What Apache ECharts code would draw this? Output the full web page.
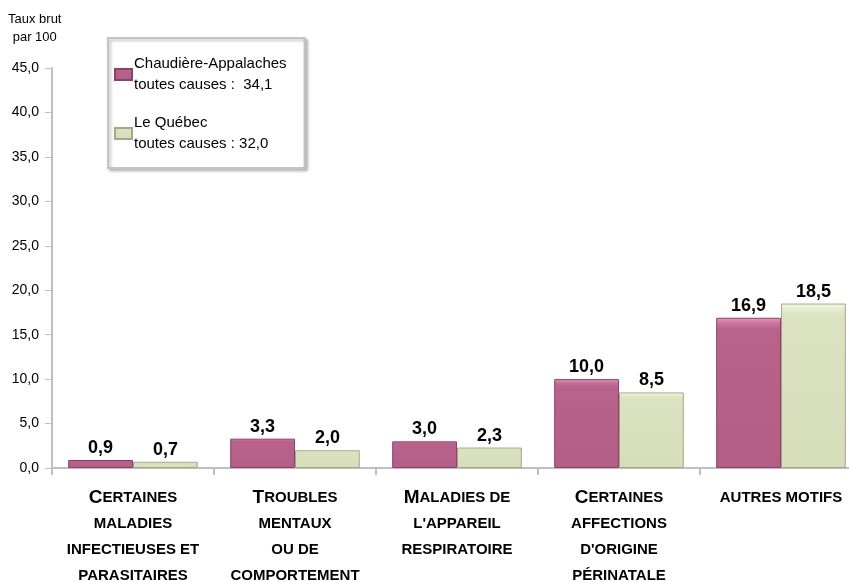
<!DOCTYPE html>
<html>
<head>
<meta charset="utf-8">
<script src="https://cdn.jsdelivr.net/npm/echarts@6/dist/echarts.min.js"></script>
<style>
html,body{margin:0;padding:0;background:#fff;}
#chart{width:849px;height:582px;}
</style>
</head>
<body>
<div id="chart"></div>
<script>
const categories = [
    "Certaines\nmaladies\ninfectieuses et\nparasitaires",
    "Troubles\nmentaux\nou de\ncomportement",
    "Maladies de\nl'appareil\nrespiratoire",
    "Certaines\naffections\nd'origine\npérinatale",
    "autres motifs"
];
const chaudiere = [0.9, 3.3, 3.0, 10.0, 16.9];
const quebec = [0.7, 2.0, 2.3, 8.5, 18.5];
const seriesNames = ["Chaudière-Appalaches", "Le Québec"];
const totals = ["34,1", "32,0"];
const totalsPrefix = ["toutes causes :  ", "toutes causes : "];

window.addEventListener("load", function () {
    let chart = echarts.init(document.getElementById("chart"));
    const font = "'Liberation Sans', Arial, sans-serif";
    const fr = v => v.toFixed(1).replace(".", ",");

    // fake small caps: first capital letter is drawn larger
    function smallCaps(txt) {
        let lines = txt.split("\n");
        return lines.map((l, i) => {
            let up = l.toUpperCase();
            if (i == 0 && l[0] != l[0].toLowerCase() ) {
                return "{big|" + up[0] + "}{sm|" + up.slice(1) + "}";
            }
            return "{sm|" + up + "}";
        }).join("\n");
    }

    let pink = new echarts.graphic.LinearGradient(0, 0, 0, 1, [
        {offset: 0, color: '#e897c0'},
        {offset: 0.04, color: '#c8719c'},
        {offset: 0.08, color: '#b8628c'},
        {offset: 1, color: '#b35d87'}
    ]);
    let green = new echarts.graphic.LinearGradient(0, 0, 0, 1, [
        {offset: 0, color: '#f4f8e2'},
        {offset: 0.04, color: '#e4eacb'},
        {offset: 0.08, color: '#dbe2c0'},
        {offset: 1, color: '#d6ddb9'}
    ]);

    let labelStyle = {
        show: true,
        position: 'top',
        distance: 3,
        fontFamily: font,
        fontWeight: 'bold',
        fontSize: 18,
        color: '#000',
        formatter: p => fr(p.value)
    };

    let option = {
        backgroundColor: '#fff',
        animation: false,
        graphic: [{
            type: 'text',
            left: 8,
            top: 10,
            style: {
                text: 'Taux brut\npar 100',
                font: '13px ' + font,
                fill: '#000',
                textAlign: 'center',
                lineHeight: 18
            }
        }],
        legend: {
            left: 108,
            top: 38,
            orient: 'vertical',
            backgroundColor: '#fff',
            borderColor: '#c4c4c4',
            borderWidth: 2,
            shadowColor: 'rgba(0,0,0,0.25)',
            shadowBlur: 3,
            shadowOffsetX: 2,
            shadowOffsetY: 2,
            padding: [5, 18, 3, 6],
            itemWidth: 17,
            itemHeight: 11,
            itemGap: -4,
            icon: 'rect',
            data: seriesNames,
            formatter: function (name) {
                let i = seriesNames.indexOf(name);
                return name + "\n" + totalsPrefix[i] + totals[i];
            },
            textStyle: {
                fontFamily: font,
                fontSize: 15,
                color: '#000',
                lineHeight: 21,
                padding: [21, 0, 0, -3]
            }
        },
        grid: {
            left: 52,
            top: 68,
            width: 810,
            height: 400,
            outerBoundsMode: 'none'
        },
        xAxis: {
            type: 'category',
            data: categories,
            axisLine: {lineStyle: {color: '#bfbfbf', width: 2}},
            axisTick: {show: true, length: 7, lineStyle: {color: '#bfbfbf', width: 2}},
            axisLabel: {
                interval: 0,
                margin: 17,
                formatter: smallCaps,
                rich: {
                    big: {fontFamily: font, fontWeight: 'bold', fontSize: 19, color: '#000', lineHeight: 26},
                    sm: {fontFamily: font, fontWeight: 'bold', fontSize: 15, color: '#000', lineHeight: 26}
                }
            }
        },
        yAxis: {
            type: 'value',
            min: 0,
            max: 45,
            interval: 5,
            splitLine: {show: false},
            axisLine: {show: true, lineStyle: {color: '#bfbfbf', width: 2}},
            axisTick: {show: true, length: 7, lineStyle: {color: '#bfbfbf', width: 1}},
            axisLabel: {
                margin: 13,
                fontFamily: font,
                fontSize: 14,
                color: '#000',
                formatter: v => fr(v)
            }
        },
        series: [{
            name: seriesNames[0],
            type: 'bar',
            data: chaudiere,
            barGap: '0%',
            barCategoryGap: '20%',
            itemStyle: {color: pink, borderColor: '#8d4169', borderWidth: 1},
            label: labelStyle
        }, {
            name: seriesNames[1],
            type: 'bar',
            data: quebec,
            itemStyle: {color: green, borderColor: '#a3a888', borderWidth: 1},
            label: labelStyle
        }]
    };

    chart.setOption(option);
});
</script>
</body>
</html>
